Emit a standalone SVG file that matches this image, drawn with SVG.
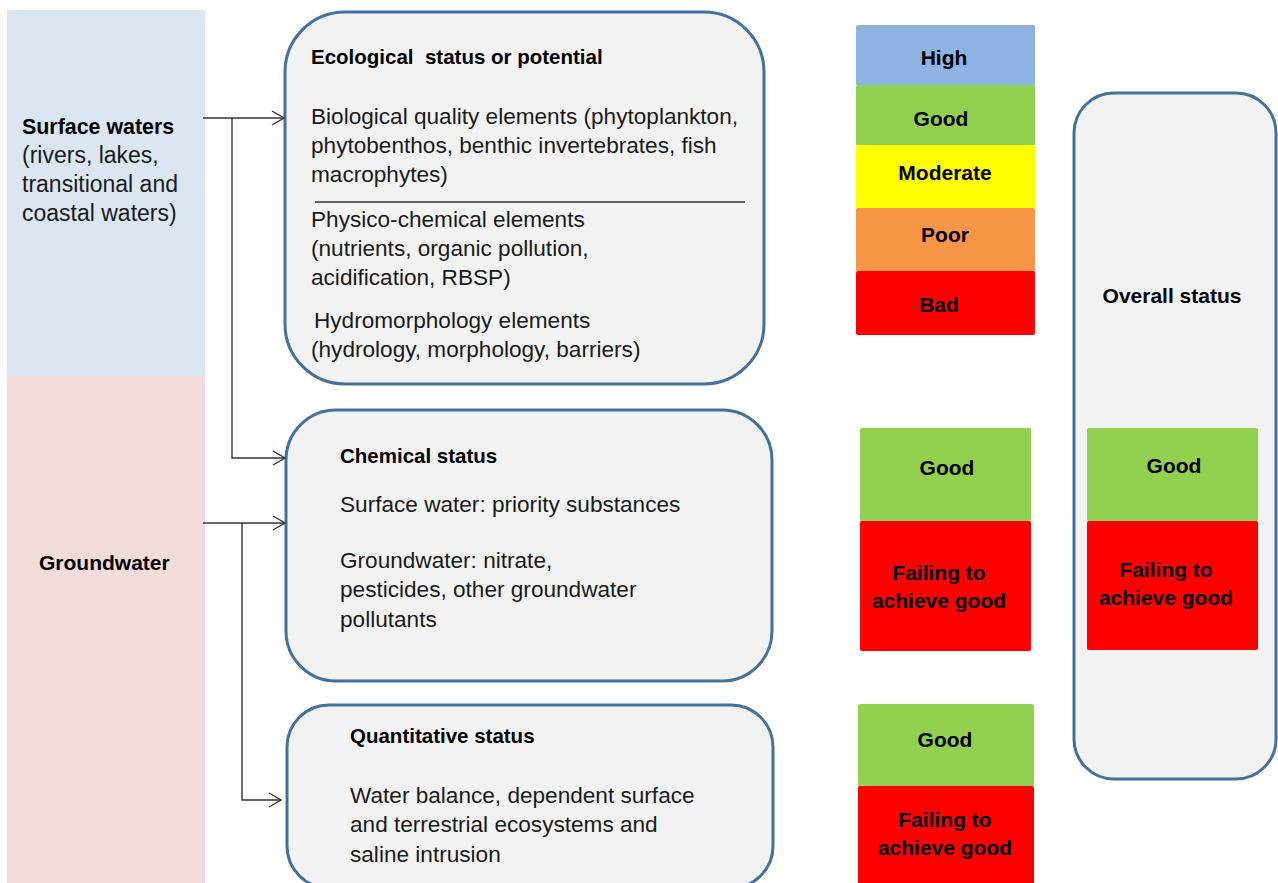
<svg xmlns="http://www.w3.org/2000/svg" width="1278" height="883" viewBox="0 0 1278 883">
<style>
text{font-family:"Liberation Sans",Arial,sans-serif;fill:#1a1a1a}
.b{font-size:22.6px}
.s{font-size:23px}
.t{font-size:20.5px;font-weight:bold;fill:#000}
.l{font-size:21px;font-weight:bold;fill:#000;text-anchor:middle}
.box{fill:#f2f2f2;stroke:#44709e;stroke-width:3}
.c{fill:none;stroke:#333;stroke-width:1.4}
</style>
<defs>
<marker id="a" markerWidth="14" markerHeight="16" refX="13" refY="8" orient="auto" markerUnits="userSpaceOnUse">
<path d="M1,1 L13,8 L1,15" fill="none" stroke="#333" stroke-width="1.4"/>
</marker>
</defs>
<g id="surface-waters">
<rect x="7" y="10" width="198" height="366" fill="#dce6f2"/>
<text x="22" y="134" class="t" style="font-size:21.4px">Surface waters</text>
<text x="22" y="163" class="s">(rivers, lakes,</text>
<text x="22" y="192" class="s">transitional and</text>
<text x="22" y="221" class="s">coastal waters)</text>
</g>
<g id="groundwater">
<rect x="7" y="376" width="198" height="507" fill="#f2dcdb"/>
<text x="39" y="570" class="t" style="font-size:21px">Groundwater</text>
</g>
<g id="ecological">
<rect x="285" y="12" width="479" height="372" rx="60" ry="60" class="box"/>
<text x="311" y="64" class="t" xml:space="preserve">Ecological  status or potential</text>
<text x="311" y="124" class="b">Biological quality elements (phytoplankton,</text>
<text x="311" y="153" class="b">phytobenthos, benthic invertebrates, fish</text>
<text x="311" y="182" class="b">macrophytes)</text>
<line x1="315" y1="202" x2="745" y2="202" stroke="#333" stroke-width="1.4"/>
<text x="311" y="227" class="b">Physico-chemical elements</text>
<text x="311" y="256" class="b">(nutrients, organic pollution,</text>
<text x="311" y="285" class="b">acidification, RBSP)</text>
<text x="314" y="328" class="b">Hydromorphology elements</text>
<text x="311" y="357" class="b">(hydrology, morphology, barriers)</text>
</g>
<g id="chemical">
<rect x="286" y="410" width="486" height="271" rx="50" ry="50" class="box"/>
<text x="340" y="463" class="t">Chemical status</text>
<text x="340" y="512" class="b">Surface water: priority substances</text>
<text x="340" y="568" class="b">Groundwater: nitrate,</text>
<text x="340" y="597" class="b">pesticides, other groundwater</text>
<text x="340" y="627" class="b">pollutants</text>
</g>
<g id="quantitative">
<rect x="287" y="705" width="486" height="183" rx="42" ry="42" class="box"/>
<text x="350" y="743" class="t">Quantitative status</text>
<text x="350" y="803" class="b">Water balance, dependent surface</text>
<text x="350" y="832" class="b">and terrestrial ecosystems and</text>
<text x="350" y="862" class="b">saline intrusion</text>
</g>
<g id="ecological-classes">
<rect x="856" y="25" width="179" height="61" rx="2" fill="#8db3e2"/>
<rect x="856" y="85" width="179" height="61" rx="2" fill="#92d050"/>
<rect x="856" y="145" width="179" height="64" rx="2" fill="#ffff00"/>
<rect x="856" y="208" width="179" height="64" rx="2" fill="#f79646"/>
<rect x="856" y="271" width="179" height="64" rx="2" fill="#ff0000"/>
<text x="944" y="65" class="l">High</text>
<text x="941" y="126" class="l">Good</text>
<text x="945" y="180" class="l">Moderate</text>
<text x="945" y="242" class="l">Poor</text>
<text x="939" y="312" class="l">Bad</text>
</g>
<g id="chemical-classes">
<rect x="860" y="428" width="171" height="94" rx="2" fill="#92d050"/>
<rect x="860" y="521" width="171" height="130" rx="2" fill="#ff0000"/>
<text x="947" y="475" class="l">Good</text>
<text x="939" y="580" class="l">Failing to</text>
<text x="939" y="608" class="l">achieve good</text>
</g>
<g id="quantitative-classes">
<rect x="858" y="704" width="176" height="83" rx="2" fill="#92d050"/>
<rect x="858" y="786" width="176" height="110" rx="2" fill="#ff0000"/>
<text x="945" y="747" class="l">Good</text>
<text x="945" y="827" class="l">Failing to</text>
<text x="945" y="855" class="l">achieve good</text>
</g>
<g id="overall">
<rect x="1074" y="93" width="202" height="686" rx="40" ry="40" class="box"/>
<text x="1172" y="303" class="l">Overall status</text>
<rect x="1087" y="428" width="171" height="94" rx="2" fill="#92d050"/>
<rect x="1087" y="521" width="171" height="129" rx="2" fill="#ff0000"/>
<text x="1174" y="473" class="l">Good</text>
<text x="1166" y="577" class="l">Failing to</text>
<text x="1166" y="605" class="l">achieve good</text>
</g>
<g id="connectors">
<path class="c" d="M203,118 H284" marker-end="url(#a)"/>
<path class="c" d="M232,118 V458 H285" marker-end="url(#a)"/>
<path class="c" d="M203,523 H285" marker-end="url(#a)"/>
<path class="c" d="M242,523 V800 H281" marker-end="url(#a)"/>
</g>
</svg>
